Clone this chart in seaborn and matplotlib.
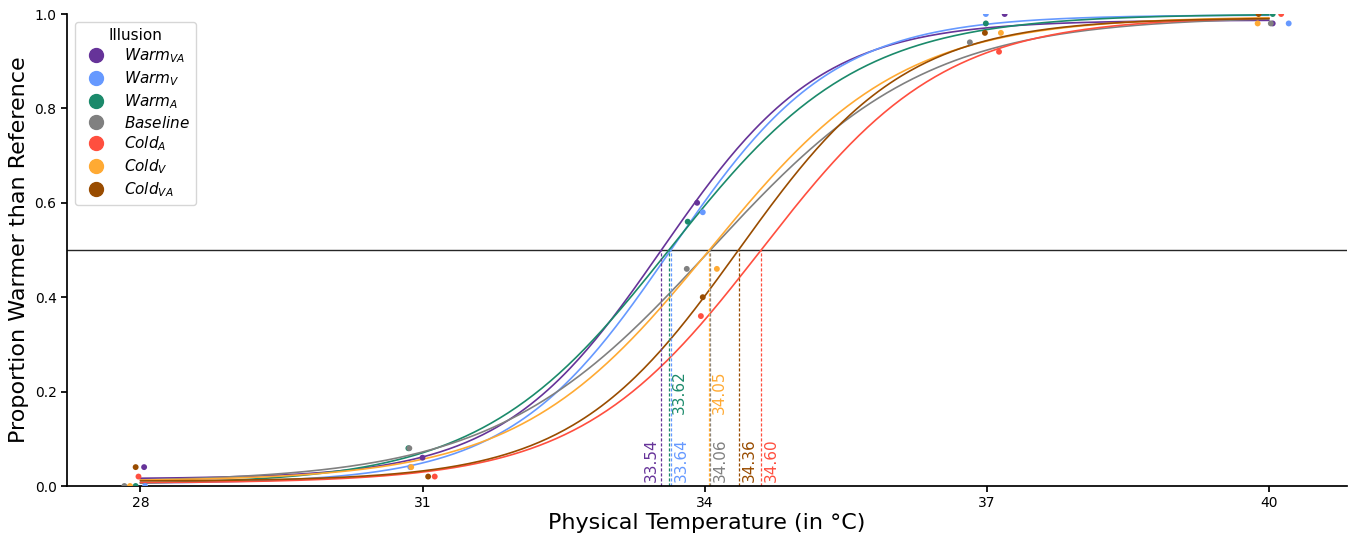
import numpy as np
import pandas as pd
import matplotlib
matplotlib.use("Agg")
import matplotlib.pyplot as plt
from matplotlib.lines import Line2D
import seaborn as sns

# ---------------- data ----------------
illusions = ["Warm_VA", "Warm_V", "Warm_A", "Baseline", "Cold_A", "Cold_V", "Cold_VA"]
legend_labels = ["$Warm_{VA}$", "$Warm_{V}$", "$Warm_{A}$", "$Baseline$",
                 "$Cold_{A}$", "$Cold_{V}$", "$Cold_{VA}$"]
colors = ["#663399", "#6699FF", "#1B8A6B", "#808080", "#FF4F3F", "#FFAA33", "#994C00"]

# fitted psychometric parameters (PSE read from labels, others estimated)
pse = [33.54, 33.64, 33.62, 34.06, 34.60, 34.05, 34.36]
spread = [0.85, 0.86, 1.00, 1.15, 0.97, 1.02, 0.89]
guess = [0.015, 0.005, 0.003, 0.008, 0.006, 0.010, 0.010]
lapse = [0.013, 0.002, 0.000, 0.005, 0.005, 0.005, 0.008]

# observed proportions (x includes the plotted jitter)
obs_x = {
    "Warm_VA": [28.04, 31.00, 33.92, 37.19, 40.04],
    "Warm_V": [28.05, 30.87, 33.98, 36.99, 40.21],
    "Warm_A": [27.95, 30.85, 33.82, 36.99, 40.04],
    "Baseline": [27.83, 30.86, 33.81, 36.82, 40.02],
    "Cold_A": [27.98, 31.13, 33.96, 37.13, 40.13],
    "Cold_V": [27.89, 30.88, 34.13, 37.15, 39.88],
    "Cold_VA": [27.95, 31.06, 33.98, 36.98, 39.89],
}
obs_y = {
    "Warm_VA": [0.04, 0.06, 0.60, 1.00, 0.98],
    "Warm_V": [0.00, 0.04, 0.58, 1.00, 0.98],
    "Warm_A": [0.00, 0.08, 0.56, 0.98, 1.00],
    "Baseline": [0.00, 0.08, 0.46, 0.94, 0.98],
    "Cold_A": [0.02, 0.02, 0.36, 0.92, 1.00],
    "Cold_V": [0.00, 0.04, 0.46, 0.96, 0.98],
    "Cold_VA": [0.04, 0.02, 0.40, 0.96, 1.00],
}
temps = [28, 31, 34, 37, 40]

# ---------------- build tables ----------------
def psychometric(x, p50, s, g, l):
    # logistic whose 50% point is at p50
    target = (0.5 - g) / (1 - g - l)
    m = p50 - s * np.log(target / (1 - target))
    return g + (1 - g - l) / (1 + np.exp(-(x - m) / s))

grid = np.linspace(28, 40, 400)
curve_rows = []
for name, p50, s, g, l in zip(illusions, pse, spread, guess, lapse):
    curve_rows.append(pd.DataFrame({"x": grid, "y": psychometric(grid, p50, s, g, l),
                                    "Illusion": name}))
curves = pd.concat(curve_rows, ignore_index=True)

pts = pd.concat([pd.DataFrame({"x": obs_x[n], "y": obs_y[n], "Illusion": n})
                 for n in illusions], ignore_index=True)

palette = dict(zip(illusions, colors))

# ---------------- plot ----------------
sns.set_theme(style="ticks", rc={
    "text.color": "black", "axes.labelcolor": "black",
    "xtick.color": "black", "ytick.color": "black",
    "axes.edgecolor": "black", "xtick.major.size": 4, "ytick.major.size": 4,
})
plt.rcParams["font.family"] = ["DejaVu Sans"]

fig = plt.figure(figsize=(13.53, 5.33), dpi=100)
ax = fig.add_axes([67 / 1353, 1 - 486 / 533, (1347 - 67) / 1353, (486 - 14) / 533])

ax.axhline(0.5, color="black", lw=1.0, alpha=0.85, zorder=1)

sns.lineplot(data=curves, x="x", y="y", hue="Illusion", hue_order=illusions,
             palette=palette, lw=1.2, legend=False, ax=ax, zorder=2)
sns.scatterplot(data=pts, x="x", y="y", hue="Illusion", hue_order=illusions,
                palette=palette, s=18, linewidth=0, legend=False, ax=ax, zorder=3)

# PSE markers
label_offset = [-0.11, 0.11, 0.11, 0.11, 0.11, 0.11, 0.11]
label_y = [0.008, 0.008, 0.153, 0.008, 0.008, 0.153, 0.008]
for p50, c, dx, ty in zip(pse, colors, label_offset, label_y):
    ax.vlines(p50, 0, 0.5, colors=c, lw=0.9, linestyles=(0, (2.5, 1.5)), zorder=2)
    ax.text(p50 + dx, ty, f"{p50:.2f}", rotation=90, ha="center", va="bottom",
            color=c, fontsize=11)

ax.set_xlim(27.22, 40.83)
ax.set_ylim(0, 1)
ax.set_xticks(temps)
ax.set_xticklabels([str(t) for t in temps])
ax.set_yticks(np.arange(0, 1.01, 0.2))
ax.tick_params(labelsize=10)
ax.set_xlabel("Physical Temperature (in °C)", fontsize=16, labelpad=2)
ax.set_ylabel("Proportion Warmer than Reference", fontsize=16)
sns.despine(ax=ax)

handles = [Line2D([], [], marker="o", ls="", color=c, markersize=10) for c in colors]
ax.legend(handles, legend_labels, title="Illusion", loc="upper left",
          fontsize=11, title_fontsize=11, labelspacing=0.26)

fig.savefig("out.png", dpi=100)
